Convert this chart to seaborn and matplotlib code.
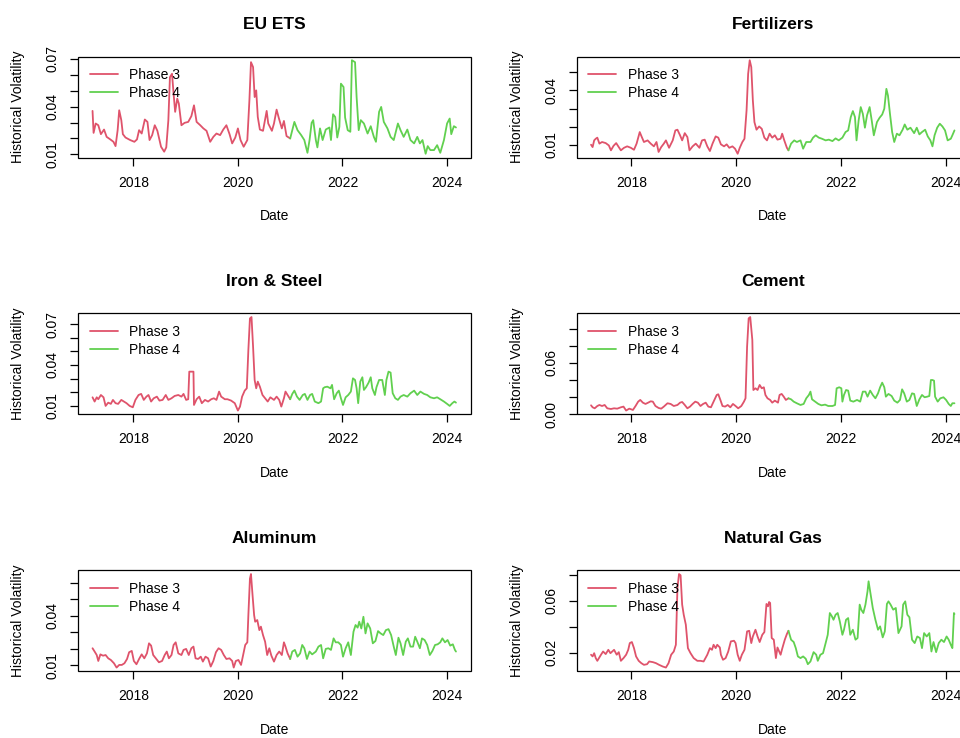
import numpy as np
import pandas as pd
import matplotlib
matplotlib.use("Agg")
import matplotlib.pyplot as plt
from matplotlib.patches import Rectangle
import seaborn as sns

# ---------------- data (decimal year, historical volatility) ----------------
eu_years_p3 = [2017.22, 2017.24, 2017.28, 2017.33, 2017.38, 2017.44, 2017.49, 2017.56, 2017.62, 2017.66,
               2017.70, 2017.73, 2017.77, 2017.80, 2017.85, 2017.94, 2018.02, 2018.07, 2018.11, 2018.16,
               2018.22, 2018.27, 2018.31, 2018.36, 2018.41, 2018.46, 2018.53, 2018.59, 2018.63, 2018.67,
               2018.70, 2018.74, 2018.77, 2018.80, 2018.84, 2018.87, 2018.92, 2018.98, 2019.05, 2019.11,
               2019.16, 2019.21, 2019.28, 2019.34, 2019.40, 2019.47, 2019.53, 2019.59, 2019.66, 2019.72,
               2019.78, 2019.84, 2019.89, 2019.95, 2020.00, 2020.05, 2020.11, 2020.18, 2020.22, 2020.25,
               2020.29, 2020.32, 2020.35, 2020.38, 2020.42, 2020.48, 2020.55, 2020.58, 2020.65, 2020.69,
               2020.74, 2020.78, 2020.84, 2020.88, 2020.93, 2021.00]
eu_vol_p3 = [0.0373, 0.0235, 0.0294, 0.0283, 0.0227, 0.0256, 0.0210, 0.0194, 0.0179, 0.0152,
             0.0252, 0.0377, 0.0315, 0.0227, 0.0206, 0.0190, 0.0179, 0.0194, 0.0252, 0.0231,
             0.0319, 0.0304, 0.0190, 0.0221, 0.0283, 0.0248, 0.0148, 0.0117, 0.0144, 0.0315,
             0.0585, 0.0606, 0.0481, 0.0367, 0.0450, 0.0419, 0.0283, 0.0298, 0.0304, 0.0340,
             0.0408, 0.0304, 0.0283, 0.0263, 0.0248, 0.0179, 0.0210, 0.0231, 0.0221, 0.0256,
             0.0283, 0.0227, 0.0169, 0.0206, 0.0263, 0.0190, 0.0148, 0.0190, 0.0440, 0.0679,
             0.0648, 0.0460, 0.0502, 0.0335, 0.0256, 0.0248, 0.0373, 0.0294, 0.0248, 0.0294,
             0.0381, 0.0331, 0.0263, 0.0310, 0.0215, 0.0200]
eu_years_p4 = [2021.08, 2021.14, 2021.21, 2021.27, 2021.33, 2021.37, 2021.41, 2021.44, 2021.49, 2021.52,
               2021.57, 2021.62, 2021.68, 2021.75, 2021.78, 2021.82, 2021.86, 2021.90, 2021.94, 2021.97,
               2022.02, 2022.05, 2022.10, 2022.15, 2022.18, 2022.24, 2022.27, 2022.31, 2022.35, 2022.41,
               2022.48, 2022.54, 2022.60, 2022.64, 2022.70, 2022.74, 2022.79, 2022.86, 2022.92, 2022.98,
               2023.06, 2023.11, 2023.17, 2023.24, 2023.30, 2023.37, 2023.43, 2023.48, 2023.53, 2023.59,
               2023.63, 2023.68, 2023.75, 2023.81, 2023.87, 2023.94, 2024.00, 2024.05, 2024.08, 2024.13,
               2024.17]
eu_vol_p4 = [0.0304, 0.0252, 0.0221, 0.0190, 0.0110, 0.0190, 0.0298, 0.0315, 0.0190, 0.0144,
             0.0263, 0.0190, 0.0256, 0.0269, 0.0190, 0.0352, 0.0335, 0.0206, 0.0273, 0.0544,
             0.0523, 0.0331, 0.0252, 0.0242, 0.0691, 0.0679, 0.0460, 0.0252, 0.0315, 0.0294,
             0.0231, 0.0277, 0.0210, 0.0179, 0.0367, 0.0398, 0.0304, 0.0263, 0.0210, 0.0190,
             0.0294, 0.0252, 0.0210, 0.0256, 0.0190, 0.0169, 0.0210, 0.0169, 0.0190, 0.0104,
             0.0152, 0.0127, 0.0127, 0.0158, 0.0110, 0.0190, 0.0294, 0.0325, 0.0227, 0.0277,
             0.0269]

fert_years_p3 = [2017.23, 2017.26, 2017.29, 2017.32, 2017.35, 2017.39, 2017.44, 2017.51, 2017.57, 2017.61,
                 2017.66, 2017.71, 2017.75, 2017.80, 2017.86, 2017.92, 2017.99, 2018.05, 2018.10, 2018.16,
                 2018.20, 2018.24, 2018.31, 2018.37, 2018.43, 2018.48, 2018.52, 2018.57, 2018.62, 2018.66,
                 2018.72, 2018.79, 2018.84, 2018.88, 2018.93, 2018.97, 2019.02, 2019.07, 2019.11, 2019.17,
                 2019.23, 2019.30, 2019.35, 2019.40, 2019.45, 2019.50, 2019.55, 2019.61, 2019.66, 2019.71,
                 2019.77, 2019.82, 2019.87, 2019.93, 2019.98, 2020.03, 2020.07, 2020.12, 2020.16, 2020.20,
                 2020.23, 2020.26, 2020.29, 2020.32, 2020.35, 2020.39, 2020.44, 2020.49, 2020.54, 2020.59,
                 2020.64, 2020.69, 2020.74, 2020.79, 2020.85, 2020.88, 2020.92, 2020.97, 2021.00]
fert_vol_p3 = [0.0100, 0.0087, 0.0124, 0.0133, 0.0139, 0.0106, 0.0115, 0.0109, 0.0096, 0.0069,
               0.0094, 0.0109, 0.0091, 0.0069, 0.0083, 0.0091, 0.0083, 0.0072, 0.0106, 0.0170,
               0.0142, 0.0115, 0.0124, 0.0106, 0.0091, 0.0115, 0.0060, 0.0087, 0.0106, 0.0124,
               0.0083, 0.0124, 0.0179, 0.0183, 0.0152, 0.0124, 0.0164, 0.0142, 0.0069, 0.0091,
               0.0106, 0.0083, 0.0124, 0.0128, 0.0091, 0.0065, 0.0106, 0.0146, 0.0139, 0.0102,
               0.0091, 0.0102, 0.0083, 0.0091, 0.0078, 0.0050, 0.0083, 0.0115, 0.0133, 0.0290,
               0.0492, 0.0567, 0.0529, 0.0345, 0.0225, 0.0183, 0.0201, 0.0188, 0.0139, 0.0124,
               0.0161, 0.0139, 0.0152, 0.0128, 0.0133, 0.0161, 0.0124, 0.0083, 0.0069]
fert_years_p4 = [2021.05, 2021.11, 2021.16, 2021.23, 2021.28, 2021.34, 2021.42, 2021.47, 2021.52, 2021.58,
                 2021.64, 2021.71, 2021.77, 2021.84, 2021.90, 2021.96, 2022.03, 2022.09, 2022.14, 2022.19,
                 2022.23, 2022.27, 2022.30, 2022.34, 2022.38, 2022.42, 2022.46, 2022.50, 2022.55, 2022.59,
                 2022.63, 2022.69, 2022.74, 2022.79, 2022.83, 2022.87, 2022.90, 2022.94, 2022.98, 2023.02,
                 2023.07, 2023.12, 2023.18, 2023.22, 2023.27, 2023.33, 2023.40, 2023.45, 2023.50, 2023.55,
                 2023.61, 2023.66, 2023.71, 2023.75, 2023.79, 2023.84, 2023.89, 2023.94, 2023.99, 2024.04,
                 2024.10, 2024.13, 2024.17]
fert_vol_p4 = [0.0106, 0.0124, 0.0115, 0.0124, 0.0078, 0.0115, 0.0115, 0.0139, 0.0152, 0.0139,
               0.0133, 0.0124, 0.0128, 0.0120, 0.0135, 0.0124, 0.0139, 0.0170, 0.0179, 0.0253,
               0.0286, 0.0253, 0.0124, 0.0234, 0.0308, 0.0271, 0.0194, 0.0262, 0.0308, 0.0234,
               0.0152, 0.0225, 0.0249, 0.0267, 0.0299, 0.0409, 0.0372, 0.0267, 0.0170, 0.0115,
               0.0161, 0.0152, 0.0183, 0.0212, 0.0183, 0.0194, 0.0164, 0.0194, 0.0157, 0.0170,
               0.0183, 0.0146, 0.0124, 0.0091, 0.0152, 0.0194, 0.0216, 0.0201, 0.0179, 0.0124,
               0.0133, 0.0152, 0.0179]

iron_years_p3 = [2017.22, 2017.26, 2017.30, 2017.33, 2017.38, 2017.43, 2017.47, 2017.52, 2017.57, 2017.61,
                 2017.66, 2017.71, 2017.77, 2017.82, 2017.87, 2017.93, 2017.99, 2018.04, 2018.10, 2018.15,
                 2018.20, 2018.25, 2018.29, 2018.34, 2018.39, 2018.45, 2018.50, 2018.56, 2018.62, 2018.67,
                 2018.73, 2018.79, 2018.86, 2018.92, 2018.96, 2019.01, 2019.05, 2019.07, 2019.11, 2019.15,
                 2019.16, 2019.21, 2019.26, 2019.31, 2019.37, 2019.43, 2019.49, 2019.54, 2019.59, 2019.64,
                 2019.68, 2019.75, 2019.80, 2019.87, 2019.94, 2020.00, 2020.04, 2020.08, 2020.13, 2020.17,
                 2020.20, 2020.23, 2020.26, 2020.29, 2020.32, 2020.35, 2020.38, 2020.42, 2020.47, 2020.52,
                 2020.57, 2020.62, 2020.69, 2020.74, 2020.79, 2020.83, 2020.88, 2020.91, 2020.95, 2021.00]
iron_vol_p3 = [0.0163, 0.0132, 0.0163, 0.0149, 0.0180, 0.0163, 0.0100, 0.0124, 0.0115, 0.0144,
               0.0120, 0.0115, 0.0144, 0.0132, 0.0120, 0.0100, 0.0090, 0.0144, 0.0180, 0.0188,
               0.0144, 0.0168, 0.0180, 0.0132, 0.0156, 0.0168, 0.0139, 0.0144, 0.0180, 0.0144,
               0.0156, 0.0173, 0.0180, 0.0168, 0.0188, 0.0144, 0.0149, 0.0351, 0.0351, 0.0351,
               0.0107, 0.0149, 0.0168, 0.0120, 0.0144, 0.0132, 0.0149, 0.0156, 0.0144, 0.0205,
               0.0168, 0.0149, 0.0149, 0.0139, 0.0120, 0.0066, 0.0095, 0.0168, 0.0212, 0.0229,
               0.0510, 0.0741, 0.0751, 0.0534, 0.0290, 0.0229, 0.0278, 0.0241, 0.0180, 0.0156,
               0.0132, 0.0163, 0.0144, 0.0168, 0.0144, 0.0095, 0.0156, 0.0205, 0.0180, 0.0149]
iron_years_p4 = [2021.04, 2021.08, 2021.13, 2021.18, 2021.24, 2021.28, 2021.33, 2021.38, 2021.42, 2021.47,
                 2021.54, 2021.59, 2021.63, 2021.66, 2021.71, 2021.77, 2021.80, 2021.84, 2021.89, 2021.93,
                 2021.97, 2022.01, 2022.06, 2022.11, 2022.16, 2022.20, 2022.24, 2022.27, 2022.30, 2022.34,
                 2022.38, 2022.41, 2022.45, 2022.50, 2022.54, 2022.57, 2022.62, 2022.65, 2022.70, 2022.76,
                 2022.81, 2022.84, 2022.88, 2022.92, 2022.96, 2023.01, 2023.06, 2023.11, 2023.17, 2023.24,
                 2023.30, 2023.37, 2023.43, 2023.49, 2023.56, 2023.62, 2023.68, 2023.75, 2023.81, 2023.87,
                 2023.94, 2024.00, 2024.05, 2024.10, 2024.14, 2024.17]
iron_vol_p4 = [0.0188, 0.0212, 0.0168, 0.0144, 0.0180, 0.0188, 0.0144, 0.0180, 0.0188, 0.0132,
               0.0120, 0.0132, 0.0229, 0.0237, 0.0241, 0.0229, 0.0254, 0.0149, 0.0193, 0.0212,
               0.0156, 0.0107, 0.0163, 0.0180, 0.0205, 0.0302, 0.0290, 0.0229, 0.0120, 0.0278,
               0.0310, 0.0217, 0.0237, 0.0271, 0.0310, 0.0229, 0.0180, 0.0237, 0.0290, 0.0290,
               0.0180, 0.0290, 0.0351, 0.0344, 0.0193, 0.0156, 0.0144, 0.0168, 0.0180, 0.0168,
               0.0193, 0.0212, 0.0180, 0.0205, 0.0188, 0.0180, 0.0163, 0.0156, 0.0163, 0.0149,
               0.0132, 0.0115, 0.0100, 0.0120, 0.0132, 0.0124]

cem_years_p3 = [2017.23, 2017.26, 2017.30, 2017.35, 2017.39, 2017.44, 2017.49, 2017.54, 2017.61, 2017.67,
                2017.73, 2017.80, 2017.85, 2017.90, 2017.96, 2018.03, 2018.08, 2018.13, 2018.17, 2018.22,
                2018.27, 2018.32, 2018.37, 2018.41, 2018.46, 2018.52, 2018.57, 2018.62, 2018.69, 2018.75,
                2018.81, 2018.88, 2018.93, 2018.97, 2019.02, 2019.07, 2019.12, 2019.17, 2019.22, 2019.27,
                2019.32, 2019.37, 2019.42, 2019.47, 2019.52, 2019.57, 2019.63, 2019.66, 2019.70, 2019.74,
                2019.79, 2019.84, 2019.89, 2019.94, 2019.99, 2020.04, 2020.10, 2020.15, 2020.18, 2020.21,
                2020.24, 2020.27, 2020.31, 2020.33, 2020.37, 2020.41, 2020.45, 2020.49, 2020.53, 2020.56,
                2020.60, 2020.65, 2020.69, 2020.74, 2020.80, 2020.83, 2020.87, 2020.91, 2020.95, 2021.00]
cem_vol_p3 = [0.0105, 0.0082, 0.0070, 0.0097, 0.0109, 0.0097, 0.0109, 0.0070, 0.0062, 0.0070,
              0.0066, 0.0082, 0.0090, 0.0044, 0.0066, 0.0051, 0.0097, 0.0148, 0.0168, 0.0136,
              0.0121, 0.0136, 0.0152, 0.0148, 0.0097, 0.0074, 0.0066, 0.0090, 0.0129, 0.0121,
              0.0097, 0.0109, 0.0136, 0.0144, 0.0109, 0.0070, 0.0090, 0.0121, 0.0148, 0.0136,
              0.0097, 0.0121, 0.0136, 0.0090, 0.0082, 0.0148, 0.0226, 0.0234, 0.0168, 0.0097,
              0.0090, 0.0109, 0.0082, 0.0121, 0.0097, 0.0070, 0.0097, 0.0148, 0.0187, 0.0791,
              0.1122, 0.1137, 0.0869, 0.0284, 0.0304, 0.0284, 0.0343, 0.0304, 0.0316, 0.0226,
              0.0187, 0.0168, 0.0136, 0.0160, 0.0136, 0.0226, 0.0238, 0.0206, 0.0168, 0.0187]
cem_years_p4 = [2021.05, 2021.10, 2021.16, 2021.23, 2021.29, 2021.34, 2021.39, 2021.42, 2021.45, 2021.51,
                2021.57, 2021.63, 2021.70, 2021.76, 2021.84, 2021.89, 2021.92, 2021.97, 2022.01, 2022.03,
                2022.06, 2022.10, 2022.14, 2022.18, 2022.24, 2022.31, 2022.37, 2022.42, 2022.47, 2022.51,
                2022.56, 2022.61, 2022.66, 2022.71, 2022.75, 2022.79, 2022.83, 2022.86, 2022.91, 2022.97,
                2023.02, 2023.08, 2023.13, 2023.17, 2023.21, 2023.26, 2023.31, 2023.36, 2023.40, 2023.45,
                2023.50, 2023.55, 2023.60, 2023.65, 2023.69, 2023.72, 2023.75, 2023.78, 2023.80, 2023.85,
                2023.90, 2023.96, 2024.01, 2024.06, 2024.10, 2024.13, 2024.17]
cem_vol_p4 = [0.0175, 0.0148, 0.0129, 0.0109, 0.0121, 0.0187, 0.0226, 0.0265, 0.0175, 0.0148,
              0.0121, 0.0105, 0.0113, 0.0097, 0.0097, 0.0109, 0.0304, 0.0316, 0.0304, 0.0148,
              0.0226, 0.0284, 0.0277, 0.0160, 0.0148, 0.0168, 0.0148, 0.0265, 0.0265, 0.0206,
              0.0277, 0.0226, 0.0187, 0.0245, 0.0316, 0.0370, 0.0316, 0.0206, 0.0238, 0.0214,
              0.0160, 0.0136, 0.0168, 0.0292, 0.0245, 0.0148, 0.0168, 0.0245, 0.0238, 0.0097,
              0.0175, 0.0226, 0.0199, 0.0206, 0.0214, 0.0401, 0.0401, 0.0393, 0.0206, 0.0148,
              0.0187, 0.0199, 0.0168, 0.0121, 0.0097, 0.0129, 0.0129]

alu_years_p3 = [2017.22, 2017.26, 2017.30, 2017.33, 2017.37, 2017.42, 2017.47, 2017.52, 2017.57, 2017.63,
                2017.68, 2017.73, 2017.78, 2017.83, 2017.88, 2017.92, 2017.97, 2018.01, 2018.06, 2018.11,
                2018.16, 2018.21, 2018.26, 2018.30, 2018.34, 2018.38, 2018.43, 2018.49, 2018.55, 2018.60,
                2018.64, 2018.68, 2018.73, 2018.77, 2018.81, 2018.86, 2018.92, 2018.96, 2019.01, 2019.06,
                2019.11, 2019.15, 2019.19, 2019.24, 2019.29, 2019.33, 2019.38, 2019.43, 2019.48, 2019.53,
                2019.58, 2019.63, 2019.68, 2019.73, 2019.78, 2019.84, 2019.89, 2019.92, 2019.96, 2020.01,
                2020.06, 2020.10, 2020.14, 2020.18, 2020.20, 2020.23, 2020.25, 2020.28, 2020.31, 2020.33,
                2020.37, 2020.41, 2020.44, 2020.48, 2020.52, 2020.56, 2020.60, 2020.64, 2020.69, 2020.74,
                2020.79, 2020.84, 2020.88, 2020.91, 2020.95, 2021.00]
alu_vol_p3 = [0.0203, 0.0183, 0.0162, 0.0126, 0.0166, 0.0158, 0.0162, 0.0142, 0.0132, 0.0112,
              0.0086, 0.0102, 0.0102, 0.0112, 0.0138, 0.0179, 0.0187, 0.0126, 0.0106, 0.0138,
              0.0166, 0.0142, 0.0172, 0.0233, 0.0219, 0.0162, 0.0142, 0.0118, 0.0126, 0.0162,
              0.0183, 0.0142, 0.0162, 0.0223, 0.0239, 0.0172, 0.0162, 0.0193, 0.0199, 0.0162,
              0.0203, 0.0213, 0.0142, 0.0138, 0.0152, 0.0122, 0.0152, 0.0142, 0.0092, 0.0126,
              0.0179, 0.0203, 0.0193, 0.0162, 0.0138, 0.0142, 0.0126, 0.0086, 0.0126, 0.0132,
              0.0102, 0.0162, 0.0223, 0.0239, 0.0404, 0.0625, 0.0653, 0.0525, 0.0404, 0.0364,
              0.0374, 0.0313, 0.0334, 0.0283, 0.0243, 0.0162, 0.0203, 0.0158, 0.0122, 0.0162,
              0.0183, 0.0162, 0.0239, 0.0213, 0.0172, 0.0138]
alu_years_p4 = [2021.04, 2021.09, 2021.14, 2021.19, 2021.23, 2021.27, 2021.32, 2021.37, 2021.42, 2021.49,
                2021.54, 2021.59, 2021.63, 2021.68, 2021.73, 2021.78, 2021.83, 2021.87, 2021.92, 2021.97,
                2022.01, 2022.06, 2022.11, 2022.16, 2022.21, 2022.25, 2022.29, 2022.32, 2022.36, 2022.40,
                2022.44, 2022.48, 2022.53, 2022.58, 2022.63, 2022.68, 2022.73, 2022.78, 2022.83, 2022.88,
                2022.93, 2022.98, 2023.02, 2023.07, 2023.11, 2023.16, 2023.21, 2023.25, 2023.30, 2023.35,
                2023.39, 2023.43, 2023.48, 2023.52, 2023.57, 2023.62, 2023.67, 2023.72, 2023.77, 2023.82,
                2023.87, 2023.91, 2023.96, 2024.01, 2024.06, 2024.11, 2024.15, 2024.17]
alu_vol_p4 = [0.0183, 0.0193, 0.0152, 0.0172, 0.0223, 0.0203, 0.0138, 0.0183, 0.0166, 0.0183,
              0.0213, 0.0223, 0.0142, 0.0199, 0.0203, 0.0193, 0.0263, 0.0239, 0.0239, 0.0223,
              0.0152, 0.0203, 0.0239, 0.0162, 0.0303, 0.0344, 0.0328, 0.0364, 0.0323, 0.0394,
              0.0293, 0.0354, 0.0323, 0.0233, 0.0247, 0.0307, 0.0293, 0.0283, 0.0313, 0.0319,
              0.0283, 0.0213, 0.0162, 0.0267, 0.0233, 0.0162, 0.0243, 0.0263, 0.0213, 0.0213,
              0.0273, 0.0243, 0.0203, 0.0263, 0.0253, 0.0223, 0.0162, 0.0187, 0.0223, 0.0227,
              0.0239, 0.0263, 0.0239, 0.0253, 0.0219, 0.0227, 0.0193, 0.0183]

gas_years_p3 = [2017.23, 2017.26, 2017.29, 2017.32, 2017.35, 2017.42, 2017.46, 2017.51, 2017.56, 2017.60,
                2017.67, 2017.72, 2017.76, 2017.80, 2017.85, 2017.90, 2017.94, 2017.97, 2018.01, 2018.05,
                2018.09, 2018.14, 2018.19, 2018.24, 2018.30, 2018.34, 2018.41, 2018.47, 2018.53, 2018.60,
                2018.66, 2018.71, 2018.76, 2018.81, 2018.85, 2018.88, 2018.91, 2018.94, 2018.97, 2019.00,
                2019.04, 2019.08, 2019.13, 2019.19, 2019.26, 2019.32, 2019.38, 2019.45, 2019.50, 2019.54,
                2019.57, 2019.61, 2019.64, 2019.69, 2019.71, 2019.75, 2019.80, 2019.85, 2019.90, 2019.96,
                2019.99, 2020.03, 2020.07, 2020.11, 2020.16, 2020.21, 2020.25, 2020.29, 2020.32, 2020.37,
                2020.41, 2020.45, 2020.50, 2020.54, 2020.58, 2020.61, 2020.63, 2020.65, 2020.68, 2020.72,
                2020.76, 2020.79, 2020.85, 2020.88, 2020.93, 2020.97, 2021.00]
gas_vol_p3 = [0.0185, 0.0172, 0.0197, 0.0159, 0.0138, 0.0185, 0.0210, 0.0190, 0.0223, 0.0197,
              0.0223, 0.0185, 0.0205, 0.0138, 0.0159, 0.0185, 0.0223, 0.0275, 0.0283, 0.0236,
              0.0172, 0.0138, 0.0120, 0.0107, 0.0112, 0.0133, 0.0128, 0.0120, 0.0107, 0.0094,
              0.0086, 0.0120, 0.0185, 0.0210, 0.0262, 0.0701, 0.0808, 0.0799, 0.0572, 0.0494,
              0.0417, 0.0236, 0.0197, 0.0159, 0.0138, 0.0138, 0.0133, 0.0185, 0.0236, 0.0223,
              0.0262, 0.0236, 0.0262, 0.0241, 0.0185, 0.0146, 0.0159, 0.0210, 0.0288, 0.0293,
              0.0275, 0.0185, 0.0138, 0.0185, 0.0223, 0.0365, 0.0370, 0.0275, 0.0326, 0.0378,
              0.0326, 0.0283, 0.0339, 0.0360, 0.0577, 0.0559, 0.0592, 0.0585, 0.0314, 0.0301,
              0.0159, 0.0241, 0.0185, 0.0231, 0.0301, 0.0345, 0.0370]
gas_years_p4 = [2021.05, 2021.10, 2021.14, 2021.18, 2021.23, 2021.28, 2021.33, 2021.37, 2021.42, 2021.48,
                2021.53, 2021.56, 2021.61, 2021.66, 2021.71, 2021.75, 2021.79, 2021.83, 2021.86, 2021.90,
                2021.94, 2021.98, 2022.03, 2022.06, 2022.10, 2022.14, 2022.18, 2022.23, 2022.28, 2022.32,
                2022.36, 2022.39, 2022.43, 2022.47, 2022.51, 2022.53, 2022.57, 2022.61, 2022.66, 2022.71,
                2022.75, 2022.80, 2022.84, 2022.88, 2022.91, 2022.95, 2023.00, 2023.05, 2023.10, 2023.16,
                2023.19, 2023.23, 2023.27, 2023.31, 2023.36, 2023.41, 2023.46, 2023.51, 2023.55, 2023.59,
                2023.64, 2023.69, 2023.73, 2023.77, 2023.82, 2023.87, 2023.92, 2023.97, 2024.02, 2024.06,
                2024.10, 2024.13, 2024.16, 2024.17]
gas_vol_p4 = [0.0301, 0.0283, 0.0236, 0.0172, 0.0159, 0.0172, 0.0154, 0.0112, 0.0133, 0.0205,
              0.0185, 0.0138, 0.0185, 0.0197, 0.0275, 0.0339, 0.0507, 0.0481, 0.0455, 0.0494,
              0.0507, 0.0443, 0.0339, 0.0378, 0.0455, 0.0468, 0.0339, 0.0378, 0.0301, 0.0314,
              0.0572, 0.0533, 0.0507, 0.0572, 0.0675, 0.0752, 0.0649, 0.0546, 0.0455, 0.0378,
              0.0404, 0.0319, 0.0365, 0.0577, 0.0597, 0.0572, 0.0533, 0.0546, 0.0352, 0.0404,
              0.0572, 0.0597, 0.0494, 0.0474, 0.0301, 0.0275, 0.0326, 0.0314, 0.0236, 0.0352,
              0.0326, 0.0352, 0.0210, 0.0283, 0.0205, 0.0275, 0.0301, 0.0283, 0.0326, 0.0301,
              0.0262, 0.0236, 0.0507, 0.0499]

titles = ["EU ETS", "Fertilizers", "Iron & Steel", "Cement", "Aluminum", "Natural Gas"]
phase_labels = ["Phase 3", "Phase 4"]
year_ticks = [2018, 2020, 2022, 2024]

# y ticks and which of them carry labels (as in the reference)
ytick_values = [
    [0.01, 0.02, 0.03, 0.04, 0.05, 0.06, 0.07],
    [0.01, 0.02, 0.03, 0.04, 0.05],
    [0.01, 0.02, 0.03, 0.04, 0.05, 0.06, 0.07],
    [0.00, 0.02, 0.04, 0.06, 0.08, 0.10],
    [0.01, 0.02, 0.03, 0.04, 0.05, 0.06],
    [0.02, 0.04, 0.06, 0.08],
]
ytick_labels = [
    ["0.01", "", "", "0.04", "", "", "0.07"],
    ["0.01", "", "", "0.04", ""],
    ["0.01", "", "", "0.04", "", "", "0.07"],
    ["0.00", "", "", "0.06", "", ""],
    ["0.01", "", "", "0.04", "", ""],
    ["0.02", "", "0.06", ""],
]

series = [
    (eu_years_p3, eu_vol_p3, eu_years_p4, eu_vol_p4),
    (fert_years_p3, fert_vol_p3, fert_years_p4, fert_vol_p4),
    (iron_years_p3, iron_vol_p3, iron_years_p4, iron_vol_p4),
    (cem_years_p3, cem_vol_p3, cem_years_p4, cem_vol_p4),
    (alu_years_p3, alu_vol_p3, alu_years_p4, alu_vol_p4),
    (gas_years_p3, gas_vol_p3, gas_years_p4, gas_vol_p4),
]

palette = {"Phase 3": "#DF536B", "Phase 4": "#61D04F"}

# ---------------- figure ----------------
sns.set_style("white")
plt.rcParams['font.family'] = ['Liberation Sans', 'DejaVu Sans']
plt.rcParams['text.color'] = 'black'
plt.rcParams['axes.labelcolor'] = 'black'
plt.rcParams['xtick.color'] = 'black'
plt.rcParams['ytick.color'] = 'black'

W, H = 960, 738
fig = plt.figure(figsize=(W / 100, H / 100), dpi=100)
col_left = [78.0, 576.5]
box_w = 392.5
row_top = [56.5, 313.3, 570.3]
box_h = 101.0

for i, (title, (y3, v3, y4, v4)) in enumerate(zip(titles, series)):
    r, c = divmod(i, 2)
    ax = fig.add_axes([col_left[c] / W, 1 - (row_top[r] + box_h) / H, box_w / W, box_h / H])

    # phase 4 line starts at the last phase 3 observation
    df = pd.DataFrame({
        "Date": list(y3) + [y3[-1]] + list(y4),
        "vol": list(v3) + [v3[-1]] + list(v4),
        "Phase": [phase_labels[0]] * len(y3) + [phase_labels[1]] * (len(y4) + 1),
    })
    sns.lineplot(data=df, x="Date", y="vol", hue="Phase", hue_order=phase_labels,
                 palette=palette, estimator=None, sort=False, linewidth=1.3, ax=ax)
    ax.margins(x=0.04, y=0.04)

    # plain box around the plotting region (R style)
    for s in ax.spines.values():
        s.set_visible(False)
    ax.add_patch(Rectangle((0, 0), 1, 1, transform=ax.transAxes, fill=False,
                           edgecolor="black", linewidth=0.9, clip_on=False, zorder=5))

    ax.minorticks_off()
    ax.set_xticks(year_ticks, [str(y) for y in year_ticks])
    ax.set_yticks(ytick_values[i], ytick_labels[i], rotation=90, va="center")
    ax.tick_params(axis="both", which="major", direction="out", length=5.5, width=0.9,
                   bottom=True, left=True, top=False, right=False,
                   labelsize=10, pad=7.5, colors="black")

    ax.set_title(title, fontsize=12.5, fontweight="bold", pad=20)
    ax.set_xlabel("Date", fontsize=10)
    ax.set_ylabel("Historical Volatility", fontsize=10)
    ax.xaxis.set_label_coords(0.5, -59 / box_h)
    ax.xaxis.label.set_va("center")
    ax.yaxis.set_label_coords(-60 / box_w, 0.5)
    ax.yaxis.label.set_va("center")

    handles, labels = ax.get_legend_handles_labels()
    ax.legend(handles, labels, loc="upper left", frameon=False, fontsize=10,
              handlelength=2.0, handletextpad=0.85, borderaxespad=0.85, borderpad=0.0,
              labelspacing=0.25)

fig.savefig("out.png", dpi=100)
